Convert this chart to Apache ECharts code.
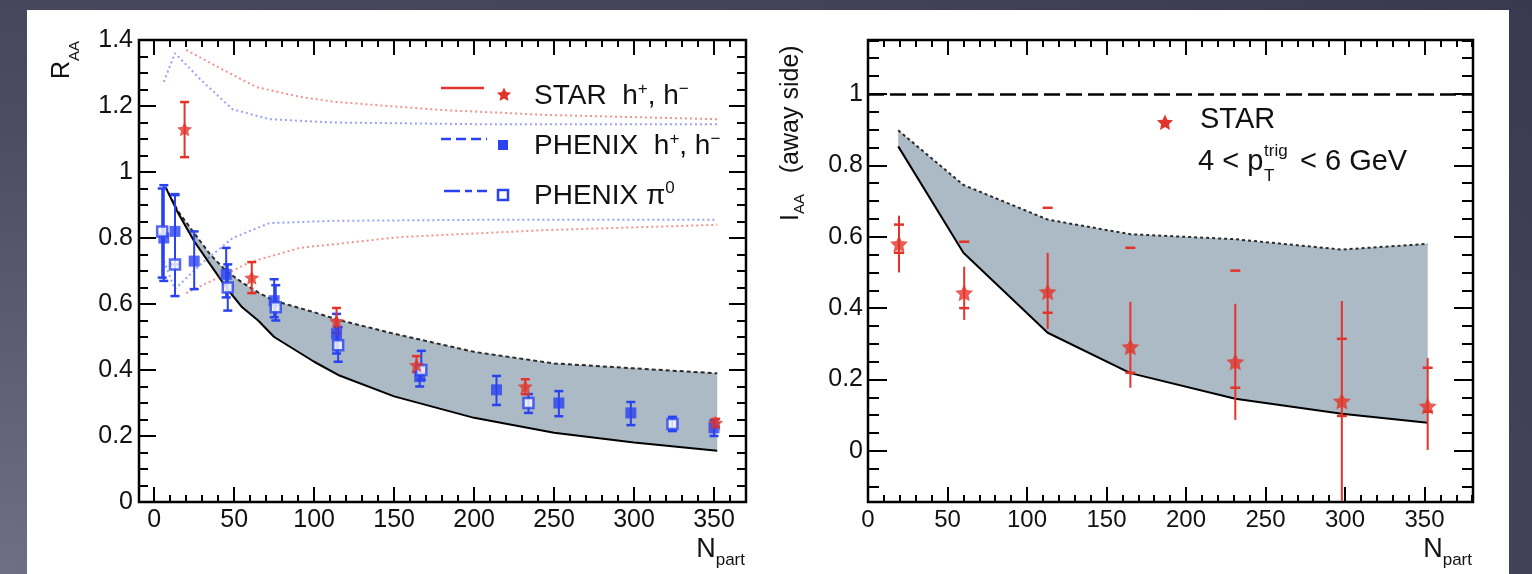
<!DOCTYPE html>
<html>
<head>
<meta charset="utf-8">
<script src="https://cdn.jsdelivr.net/npm/echarts@6/dist/echarts.min.js"></script>
<style>
html, body { margin: 0; padding: 0; }
body {
  width: 1532px; height: 574px; overflow: hidden; position: relative;
  background: radial-gradient(ellipse 140% 170% at 0% 100%, #6e6e84 0%, #4c4c63 45%, #35354c 100%);
}
#sheet { position: absolute; left: 27px; top: 10px; width: 1482px; height: 564px; background: #fff; }
#chart { position: absolute; left: 0; top: 0; width: 1532px; height: 574px; }
</style>
</head>
<body>
<div id="sheet"></div>
<div id="chart"></div>
<script>
// ---- left panel: R_AA vs N_part ----
var nMajor = [0, 50, 100, 150, 200, 250, 300, 350];
var raaMajor = [0, 0.2, 0.4, 0.6, 0.8, 1, 1.2, 1.4];
var iaaMajor = [0, 0.2, 0.4, 0.6, 0.8, 1];

// model band
var raaBandN    = [7, 15, 25, 35, 45, 55, 65, 75, 100, 115, 150, 200, 250, 300, 352];
var raaBandLow  = [0.955, 0.875, 0.79, 0.72, 0.65, 0.59, 0.55, 0.50, 0.425, 0.385, 0.32, 0.255, 0.21, 0.18, 0.155];
var raaBandHigh = [0.955, 0.88, 0.815, 0.75, 0.70, 0.665, 0.635, 0.61, 0.575, 0.552, 0.51, 0.455, 0.42, 0.405, 0.39];

// normalisation uncertainty curves (dotted)
var starNormHiN = [20, 41, 64, 91, 112, 154, 179, 245, 352];
var starNormHi  = [1.37, 1.315, 1.257, 1.228, 1.213, 1.197, 1.188, 1.173, 1.16];
var starNormLoN = [20, 41, 60, 91, 154, 245, 352];
var starNormLo  = [0.633, 0.682, 0.727, 0.77, 0.803, 0.824, 0.84];
var phxNormHiN  = [6, 13, 29, 49, 72, 112, 200, 352];
var phxNormHi   = [1.273, 1.36, 1.28, 1.19, 1.16, 1.15, 1.145, 1.145];
var phxNormLoN  = [6, 13, 29, 49, 72, 112, 200, 352];
var phxNormLo   = [0.73, 0.645, 0.72, 0.80, 0.845, 0.852, 0.855, 0.855];

// STAR h+,h-
var starN   = [19, 61, 114, 164, 232, 351];
var starRaa = [1.13, 0.68, 0.548, 0.415, 0.35, 0.24];
var starLo  = [1.045, 0.633, 0.512, 0.394, 0.327, 0.228];
var starHi  = [1.212, 0.727, 0.588, 0.442, 0.372, 0.252];

// PHENIX h+,h-
var phxHN   = [6, 13, 25, 45, 75, 114, 166, 214, 253, 298, 350];
var phxHRaa = [0.80, 0.82, 0.73, 0.69, 0.61, 0.51, 0.38, 0.34, 0.30, 0.27, 0.225];
var phxHLo  = [0.67, 0.72, 0.645, 0.62, 0.56, 0.45, 0.35, 0.294, 0.26, 0.233, 0.20];
var phxHHi  = [0.96, 0.93, 0.82, 0.77, 0.675, 0.57, 0.41, 0.382, 0.336, 0.303, 0.248];

// PHENIX pi0
var phxPN   = [5, 13, 46, 76, 115, 167, 234, 324];
var phxPRaa = [0.82, 0.72, 0.65, 0.59, 0.475, 0.40, 0.30, 0.236];
var phxPLo  = [0.68, 0.624, 0.58, 0.55, 0.425, 0.37, 0.27, 0.215];
var phxPHi  = [0.95, 0.933, 0.72, 0.657, 0.53, 0.458, 0.327, 0.258];

// ---- right panel: I_AA (away side) ----
var iaaBandN    = [19, 60, 113, 165, 231, 298, 352];
var iaaBandLow  = [0.853, 0.555, 0.331, 0.218, 0.146, 0.104, 0.079];
var iaaBandHigh = [0.898, 0.745, 0.648, 0.607, 0.593, 0.564, 0.58];

var iaaN      = [19.5, 60.5, 113, 165, 231, 298, 352];
var iaa       = [0.58, 0.443, 0.446, 0.292, 0.25, 0.14, 0.126];
var iaaStatLo = [0.50, 0.367, 0.342, 0.177, 0.087, -0.14, 0.003];
var iaaStatHi = [0.659, 0.516, 0.555, 0.418, 0.412, 0.42, 0.26];
var iaaSysLo  = [0.555, 0.40, 0.387, 0.219, 0.177, 0.098, 0.11];
var iaaSysHi  = [0.634, 0.586, 0.681, 0.569, 0.505, 0.314, 0.233];

var RED = '#e3342b';
var BLUE = '#2b42f0';
var FONT = '"Liberation Sans", Arial, sans-serif';
var STAR_D = 'M0,-10L2.82,-3.88L9.51,-3.09L4.57,1.48L5.88,8.09L0,4.8L-5.88,8.09L-4.57,1.48L-9.51,-3.09L-2.82,-3.88Z';

function range(a, b, step) {
  var out = [];
  for (var v = a; v <= b + 1e-9; v += step) out.push(+v.toFixed(3));
  return out;
}
function pairs(xs, ys) {
  return xs.map(function (x, i) { return [x, ys[i]]; });
}
// star outline for the legend glyphs
function starPoints(cx, cy, r) {
  var pts = [];
  for (var k = 0; k < 10; k++) {
    var a = -Math.PI / 2 + k * Math.PI / 5;
    var rr = k % 2 ? r * 0.48 : r;
    pts.push([cx + rr * Math.cos(a), cy + rr * Math.sin(a)]);
  }
  return pts;
}

function ax(grid, pos, min, max, ticks, len, labels, size, margin) {
  return {
    type: 'value', gridIndex: grid, position: pos, min: min, max: max,
    axisLine: { show: false, onZero: false },
    splitLine: { show: false },
    axisTick: { show: true, inside: true, length: len, customValues: ticks,
      lineStyle: { color: '#000', width: 2 } },
    axisLabel: labels ? {
      show: true, customValues: labels, margin: margin, fontSize: size,
      color: '#111', fontFamily: FONT,
      formatter: function (v) { return String(+(+v).toFixed(2)); }
    } : { show: false }
  };
}

function errorBars(xi, yi, n, lo, hi, color, cap) {
  return {
    type: 'custom', xAxisIndex: xi, yAxisIndex: yi, z: 4, silent: true,
    data: n.map(function (v, i) { return [v, lo[i], hi[i]]; }),
    encode: { x: 0, y: [1, 2] },
    renderItem: function (params, api) {
      var a = api.coord([api.value(0), api.value(1)]);
      var b = api.coord([api.value(0), api.value(2)]);
      var kids = [{ type: 'line', shape: { x1: a[0], y1: a[1], x2: b[0], y2: b[1] },
        style: { stroke: color, lineWidth: 2 } }];
      if (cap) {
        kids.push({ type: 'line', shape: { x1: a[0] - cap, y1: a[1], x2: a[0] + cap, y2: a[1] },
          style: { stroke: color, lineWidth: 2.5 } });
        kids.push({ type: 'line', shape: { x1: b[0] - cap, y1: b[1], x2: b[0] + cap, y2: b[1] },
          style: { stroke: color, lineWidth: 2.5 } });
      }
      return { type: 'group', children: kids };
    }
  };
}

function sysTicks(xi, yi, n, lo, hi, color) {
  return {
    type: 'custom', xAxisIndex: xi, yAxisIndex: yi, z: 4, silent: true,
    data: n.map(function (v, i) { return [v, lo[i], hi[i]]; }),
    encode: { x: 0, y: [1, 2] },
    renderItem: function (params, api) {
      var a = api.coord([api.value(0), api.value(1)]);
      var b = api.coord([api.value(0), api.value(2)]);
      return { type: 'group', children: [
        { type: 'line', shape: { x1: a[0] - 5, y1: a[1], x2: a[0] + 5, y2: a[1] }, style: { stroke: color, lineWidth: 2.5 } },
        { type: 'line', shape: { x1: b[0] - 5, y1: b[1], x2: b[0] + 5, y2: b[1] }, style: { stroke: color, lineWidth: 2.5 } }
      ] };
    }
  };
}

function band(xi, yi, n, low, high) {
  return {
    type: 'custom', xAxisIndex: xi, yAxisIndex: yi, z: 1, silent: true,
    data: [[n[0], low[0]]],
    renderItem: function (params, api) {
      var pts = [];
      for (var i = 0; i < n.length; i++) pts.push(api.coord([n[i], high[i]]));
      for (var j = n.length - 1; j >= 0; j--) pts.push(api.coord([n[j], low[j]]));
      return { type: 'polygon', shape: { points: pts }, style: { fill: '#abbac4' } };
    }
  };
}

function curve(xi, yi, n, v, color, width, dash, z) {
  return {
    type: 'line', xAxisIndex: xi, yAxisIndex: yi, z: z, silent: true,
    symbol: 'none', showSymbol: false,
    lineStyle: { color: color, width: width, type: dash },
    data: pairs(n, v)
  };
}

var xMinorL = range(0, 370, 10);
var xMinorR = range(0, 380, 10);
var raaMinor = range(0, 1.4, 0.05);
var iaaMinor = range(-0.1, 1.15, 0.05);

var chart = echarts.init(document.getElementById('chart'));

var rightLow = curve(4, 4, iaaBandN, iaaBandLow, '#000', 2, 'solid', 2);
rightLow.markLine = {
  silent: true, symbol: ['none', 'none'], label: { show: false }, animation: false,
  lineStyle: { color: '#000', type: [16, 6], width: 2.5 },
  data: [{ yAxis: 1 }]
};

function txt(x, y, text, size, rich, extra) {
  var st = { text: text, fontSize: size, fontFamily: FONT, fill: '#111', verticalAlign: 'middle', align: 'left' };
  if (rich) st.rich = rich;
  var el = { type: 'text', x: x, y: y, style: st };
  if (extra) for (var k in extra) {
    if (k === 'align') st.align = extra[k]; else el[k] = extra[k];
  }
  return el;
}
function sub(size, shift) {
  return { fontSize: size, fontFamily: FONT, fill: '#111', padding: [shift, 0, 0, 0] };
}
function sup(size, shift) {
  return { fontSize: size, fontFamily: FONT, fill: '#111', padding: [0, 0, shift, 0] };
}

chart.setOption({
  animation: false,
  grid: [
    { left: 139, top: 40, width: 607, height: 462, show: true, borderColor: '#000', borderWidth: 2.5,
      backgroundColor: 'transparent', containLabel: false },
    { left: 868, top: 40, width: 605, height: 462, show: true, borderColor: '#000', borderWidth: 2.5,
      backgroundColor: 'transparent', containLabel: false }
  ],
  xAxis: [
    ax(0, 'bottom', -9.5, 370, nMajor, 15, nMajor, 25, 6),
    ax(0, 'bottom', -9.5, 370, xMinorL, 7),
    ax(0, 'top', -9.5, 370, nMajor, 15),
    ax(0, 'top', -9.5, 370, xMinorL, 7),
    ax(1, 'bottom', 0, 380.5, nMajor, 15, nMajor, 24, 6),
    ax(1, 'bottom', 0, 380.5, xMinorR, 7),
    ax(1, 'top', 0, 380.5, nMajor, 15),
    ax(1, 'top', 0, 380.5, xMinorR, 7)
  ],
  yAxis: [
    ax(0, 'left', 0, 1.4, raaMajor, 17, raaMajor, 25, 6),
    ax(0, 'left', 0, 1.4, raaMinor, 9),
    ax(0, 'right', 0, 1.4, raaMajor, 17),
    ax(0, 'right', 0, 1.4, raaMinor, 9),
    ax(1, 'left', -0.143, 1.151, iaaMajor, 19, iaaMajor, 25, 5),
    ax(1, 'left', -0.143, 1.151, iaaMinor, 11),
    ax(1, 'right', -0.143, 1.151, iaaMajor, 19),
    ax(1, 'right', -0.143, 1.151, iaaMinor, 11)
  ],
  series: [
    // left panel
    band(0, 0, raaBandN, raaBandLow, raaBandHigh),
    curve(0, 0, raaBandN, raaBandHigh, '#2a2a2a', 2, [4, 3], 2),
    curve(0, 0, raaBandN, raaBandLow, '#000', 2, 'solid', 2),
    curve(0, 0, starNormHiN, starNormHi, 'rgba(228,60,50,0.55)', 2, [2, 3], 3),
    curve(0, 0, starNormLoN, starNormLo, 'rgba(228,60,50,0.55)', 2, [2, 3], 3),
    curve(0, 0, phxNormHiN, phxNormHi, 'rgba(50,70,240,0.5)', 2, [2, 3], 3),
    curve(0, 0, phxNormLoN, phxNormLo, 'rgba(50,70,240,0.5)', 2, [2, 3], 3),
    errorBars(0, 0, phxHN, phxHLo, phxHHi, BLUE, 4.5),
    errorBars(0, 0, phxPN, phxPLo, phxPHi, BLUE, 4.5),
    errorBars(0, 0, starN, starLo, starHi, RED, 4.5),
    { type: 'scatter', xAxisIndex: 0, yAxisIndex: 0, z: 5, silent: true,
      symbol: 'rect', symbolSize: 11, itemStyle: { color: BLUE },
      data: pairs(phxHN, phxHRaa) },
    { type: 'scatter', xAxisIndex: 0, yAxisIndex: 0, z: 5, silent: true,
      symbol: 'rect', symbolSize: 10, itemStyle: { color: '#fff', borderColor: BLUE, borderWidth: 2.5 },
      data: pairs(phxPN, phxPRaa) },
    { type: 'scatter', xAxisIndex: 0, yAxisIndex: 0, z: 6, silent: true,
      symbol: 'path://' + STAR_D, symbolSize: 15, symbolKeepAspect: true, itemStyle: { color: RED },
      data: pairs(starN, starRaa) },

    // right panel
    band(4, 4, iaaBandN, iaaBandLow, iaaBandHigh),
    curve(4, 4, iaaBandN, iaaBandHigh, '#2a2a2a', 2, [3, 3], 2),
    rightLow,
    errorBars(4, 4, iaaN, iaaStatLo, iaaStatHi, RED, 0),
    sysTicks(4, 4, iaaN, iaaSysLo, iaaSysHi, RED),
    { type: 'scatter', xAxisIndex: 4, yAxisIndex: 4, z: 6, silent: true,
      symbol: 'path://' + STAR_D, symbolSize: 18, symbolKeepAspect: true, itemStyle: { color: RED },
      data: pairs(iaaN, iaa) }
  ],
  graphic: [
    // axis titles
    txt(62, 79, 'R{s|AA}', 25, { s: sub(15, 26) }, { rotation: Math.PI / 2 }),
    txt(791, 221, 'I{s|AA}{p|   (away side)}', 25,
      { s: sub(15, 18), p: { fontSize: 25, fontFamily: FONT, fill: '#111' } }, { rotation: Math.PI / 2 }),
    txt(745, 550, 'N{s|part}', 27, { s: sub(17, 20) }, { align: 'right' }),
    txt(1472, 550, 'N{s|part}', 27, { s: sub(17, 20) }, { align: 'right' }),

    // left legend
    { type: 'line', shape: { x1: 441, y1: 88, x2: 484, y2: 88 }, style: { stroke: RED, lineWidth: 2.5 } },
    { type: 'polygon', shape: { points: starPoints(504, 95, 7.5) }, style: { fill: RED } },
    txt(534, 96, 'STAR  h{sup|+}, h{sup|\u2212}', 28, { sup: sup(17, 14) }),
    { type: 'line', shape: { x1: 441, y1: 139, x2: 487, y2: 139 }, style: { stroke: BLUE, lineWidth: 2.5, lineDash: [10, 5] } },
    { type: 'rect', shape: { x: 498, y: 140, width: 10, height: 10 }, style: { fill: BLUE } },
    txt(534, 146, 'PHENIX  h{sup|+}, h{sup|\u2212}', 28, { sup: sup(17, 14) }),
    { type: 'line', shape: { x1: 444, y1: 191, x2: 487, y2: 191 }, style: { stroke: BLUE, lineWidth: 2.5, lineDash: [16, 5, 7, 5] } },
    { type: 'rect', shape: { x: 498, y: 190, width: 10, height: 10 }, style: { fill: '#fff', stroke: BLUE, lineWidth: 2.5 } },
    txt(534, 196, 'PHENIX \u03c0{sup|0}', 28, { sup: sup(17, 16) }),

    // right legend
    { type: 'polygon', shape: { points: starPoints(1165, 123, 8.5) }, style: { fill: RED } },
    txt(1200, 120, 'STAR', 29),
    txt(1198, 162, '4 < p', 29),
    txt(1264, 151, 'trig', 17),
    txt(1264, 176, 'T', 17),
    txt(1300, 162, '< 6 GeV', 29)
  ]
});
</script>
</body>
</html>
